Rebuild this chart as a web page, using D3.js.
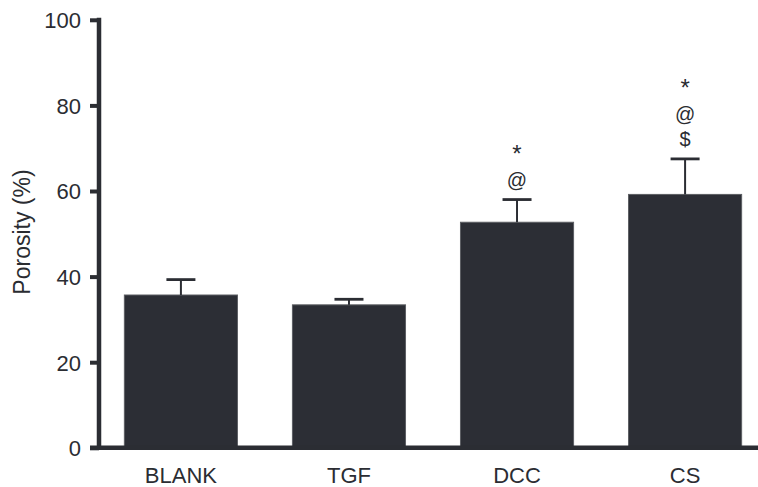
<!DOCTYPE html>
<html>
<head>
<meta charset="utf-8">
<script src="https://cdn.jsdelivr.net/npm/d3@7"></script>
<style>
  body { margin: 0; background: #fff; }
  text { font-family: "Liberation Sans", Arial, Helvetica, sans-serif; fill: #2a2c31; }
</style>
</head>
<body>
<div id="chart"></div>
<script>
// Chart data
var groups   = ["BLANK", "TGF", "DCC", "CS"];
var porosity = [35.7, 33.4, 52.7, 59.2];
var errors   = [3.6, 1.3, 5.3, 8.3];
var signif   = [[], [], ["*", "@"], ["*", "@", "$"]];
var yTicks   = [0, 20, 40, 60, 80, 100];

var config = {
  width: 758,
  height: 487,
  axis_x: 99,
  y_top: 19.8,
  y_bottom: 447.8,
  ink: "#2b2d33",
  bar_fill: "#2c2e35",
  bar_edge: "#5c5e63"
};

var svg = d3.select("#chart")
  .append("svg")
    .attr("width", config.width)
    .attr("height", config.height);

var x = d3.scaleBand()
  .domain(groups)
  .range([config.axis_x + 2, 765])
  .paddingInner(0.327)
  .paddingOuter(0.139);

var y = d3.scaleLinear()
  .domain([0, 100])
  .range([config.y_bottom, config.y_top]);

var rows = groups.map(function(g, i) {
  return { name: g, value: porosity[i], err: errors[i], marks: signif[i] };
});

// Bars
svg.append("g")
    .attr("class", "bars")
  .selectAll("rect")
  .data(rows)
  .enter()
  .append("rect")
    .attr("x", function(d) { return x(d.name); })
    .attr("y", function(d) { return y(d.value); })
    .attr("width", x.bandwidth())
    .attr("height", function(d) { return y(0) - y(d.value); })
    .style("fill", config.bar_fill)
    .style("stroke", config.bar_edge)
    .style("stroke-width", 1);

// Error bars (upper only)
var eb = svg.append("g").attr("class", "errorbars")
  .selectAll("g")
  .data(rows)
  .enter()
  .append("g");

eb.append("line")
    .attr("x1", function(d) { return x(d.name) + x.bandwidth() / 2; })
    .attr("x2", function(d) { return x(d.name) + x.bandwidth() / 2; })
    .attr("y1", function(d) { return y(d.value); })
    .attr("y2", function(d) { return y(d.value + d.err); })
    .style("stroke", config.ink)
    .style("stroke-width", 2);

eb.append("line")
    .attr("x1", function(d) { return x(d.name) + x.bandwidth() / 2 - 14.5; })
    .attr("x2", function(d) { return x(d.name) + x.bandwidth() / 2 + 14.5; })
    .attr("y1", function(d) { return y(d.value + d.err); })
    .attr("y2", function(d) { return y(d.value + d.err); })
    .style("stroke", config.ink)
    .style("stroke-width", 2.8);

// Significance symbols stacked above the error bars
eb.each(function(d) {
  var n = d.marks.length;
  d3.select(this).selectAll("text.sig")
    .data(d.marks)
    .enter()
    .append("text")
      .attr("class", "sig")
      .attr("x", x(d.name) + x.bandwidth() / 2)
      .attr("y", function(m, i) { return y(d.value + d.err) - 13 - (n - 1 - i) * 25; })
      .attr("text-anchor", "middle")
      .style("font-size", function(m) { return m === "*" ? "24px" : "20px"; })
      .text(function(m) { return m; });
});

// Y axis
var yAxis = d3.axisLeft(y)
  .tickValues(yTicks)
  .tickSize(9)
  .tickPadding(9)
  .tickSizeOuter(0);

var gy = svg.append("g")
    .attr("transform", "translate(" + config.axis_x + ",0)")
    .call(yAxis);

gy.select(".domain").remove();
gy.selectAll(".tick line")
    .style("stroke", config.ink)
    .style("stroke-width", 4);
gy.selectAll(".tick text")
    .style("font-size", "22px")
    .style("fill", config.ink)
    .attr("dy", "0.36em");

gy.append("line")
    .attr("x1", 0).attr("x2", 0)
    .attr("y1", config.y_top - 2)
    .attr("y2", config.y_bottom + 2)
    .style("stroke", config.ink)
    .style("stroke-width", 4.5);

// X baseline
svg.append("line")
    .attr("x1", config.axis_x - 9)
    .attr("x2", config.width)
    .attr("y1", y(0))
    .attr("y2", y(0))
    .style("stroke", config.ink)
    .style("stroke-width", 4.5);

// Category labels
var xAxis = d3.axisBottom(x).tickSize(0).tickPadding(20);
var gx = svg.append("g")
    .attr("transform", "translate(0," + y(0) + ")")
    .call(xAxis);
gx.select(".domain").remove();
gx.selectAll(".tick text")
    .style("font-size", "22px")
    .style("fill", config.ink);

// Y title
svg.append("text")
    .attr("transform", "translate(30,232) rotate(-90)")
    .attr("text-anchor", "middle")
    .style("font-size", "23px")
    .text("Porosity (%)");
</script>
</body>
</html>
